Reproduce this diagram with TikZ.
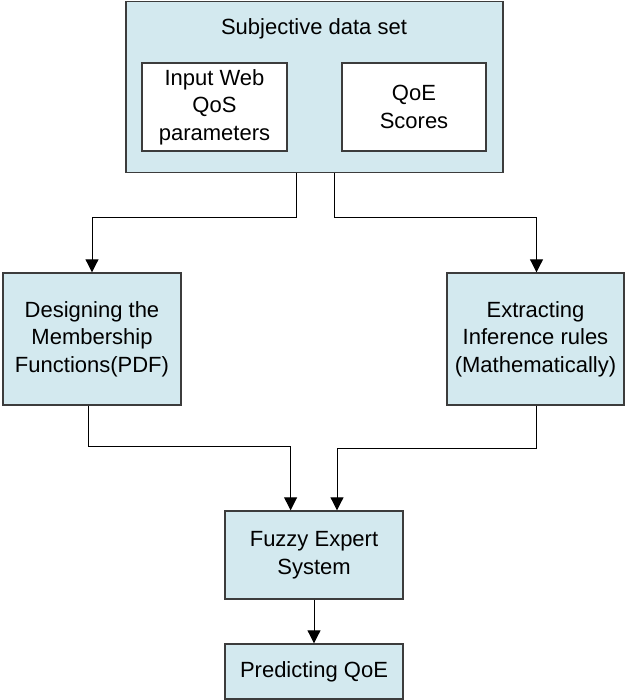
\documentclass[tikz,border=0pt]{standalone}
\usepackage{fontspec}
\setmainfont{Liberation Sans}
\usetikzlibrary{arrows.meta}

\definecolor{boxblue}{RGB}{211,233,239}
\definecolor{boxline}{RGB}{60,60,60}

\tikzset{
  stage/.style={draw=boxline, line width=1.4pt, fill=boxblue, align=center,
    inner sep=0pt, font=\fontsize{22}{27.5}\selectfont},
  inbox/.style={stage, fill=white},
  arr/.style={-{Triangle[length=13pt,width=13pt]}, line width=1pt, black}
}

\begin{document}
\begin{tikzpicture}[x=1pt,y=-1pt]
			\useasboundingbox (0,0) rectangle (625,700);

			% Datensatz
			\node[stage, minimum width=377pt, minimum height=171pt] (data) at (314.3,87.3) {};
			\node[font=\fontsize{22}{27.5}\selectfont] (datatitle) at (314,29) {Subjective data set};
			\node[inbox, minimum width=145pt, minimum height=88pt] (qos) at (214.5,107) {Input Web\\QoS\\parameters};
			\node[inbox, minimum width=144pt, minimum height=88pt] (scores) at (414,107) {QoE\\Scores};

			% Zwischenschritte
			\node[stage, minimum width=178pt, minimum height=132pt] (member) at (92,339) {Designing the\\Membership\\Functions(PDF)};
			\node[stage, minimum width=177pt, minimum height=132pt] (rules) at (535.5,339) {Extracting\\Inference rules\\(Mathematically)};

			% Expertensystem und Ergebnis
			\node[stage, minimum width=178pt, minimum height=88pt] (fes) at (314,555) {Fuzzy Expert\\System};
			\node[stage, minimum width=178pt, minimum height=55pt] (pred) at (314,671.5) {Predicting QoE};

			% Verbindungen
			\draw[arr] ([xshift=-18pt]data.south) -- ++(0,44) -| (member.north);
			\draw[arr] ([xshift=20pt]data.south) -- ++(0,44) -| ([xshift=1pt]rules.north);
			\draw[arr] ([xshift=-3.5pt]member.south) -- ++(0,40.5) -| ([xshift=-23.4pt]fes.north);
			\draw[arr] ([xshift=1pt]rules.south) -- ++(0,43) -| ([xshift=23pt]fes.north);
			\draw[arr] (fes.south) -- (pred.north);

		\end{tikzpicture}
\end{document}
